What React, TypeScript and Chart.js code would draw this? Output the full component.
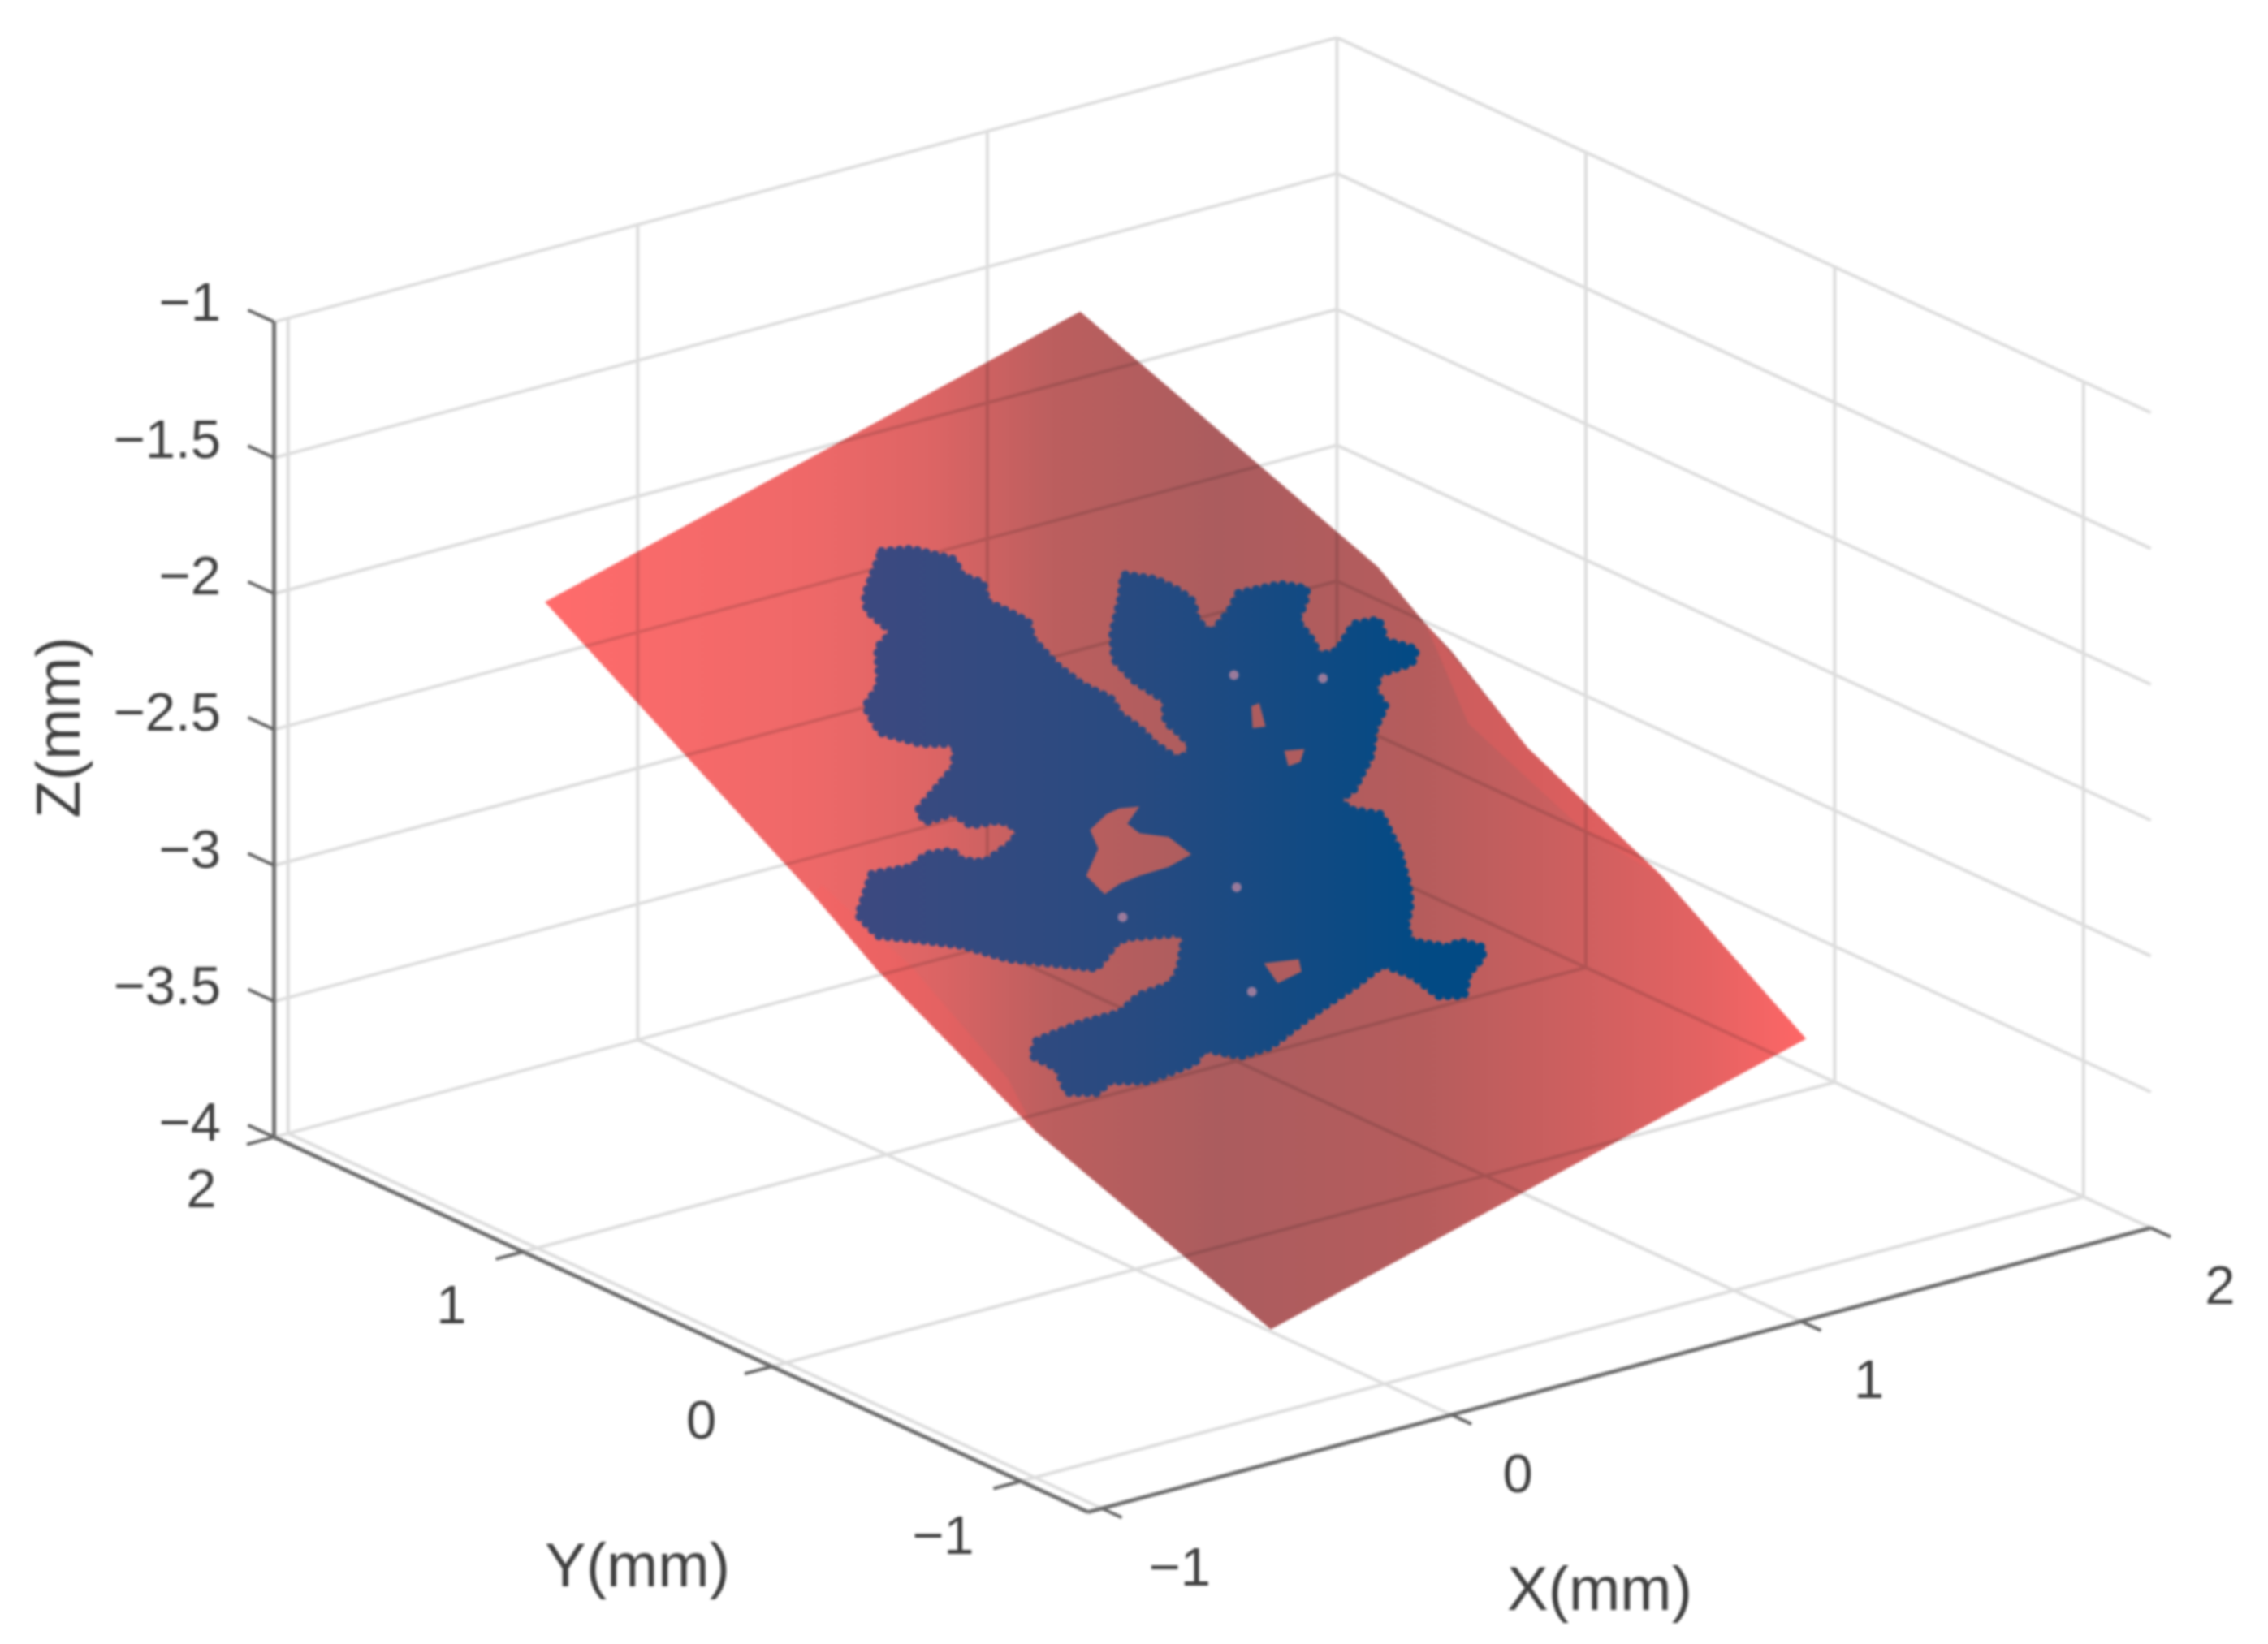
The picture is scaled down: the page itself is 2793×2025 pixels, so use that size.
import React, { useEffect, useRef } from "react";
import { Chart, registerables } from "chart.js";

Chart.register(...registerables);

// axis limits and ticks, mm
const xLimits = [-1.04, 2];
const yLimits = [-1.27, 2];
const zLimits = [-4, -1];
const xTicks = [-1, 0, 1, 2];
const yTicks = [-1, 0, 1, 2];
const zTicks = [-4, -3.5, -3, -2.5, -2, -1.5, -1];
const xTickText = ["−1", "0", "1", "2"];
const yTickText = ["−1", "0", "1", "2"];
const zTickText = ["−4", "−3.5", "−3", "−2.5", "−2", "−1.5", "−1"];

// fitted surface outline, mm
const surfX = [-0.479, 1.052, 1.052, 1.052, 1.052, 1.052, 1.052, 1.052, -0.479, -0.479, -0.479, -0.479];
const surfY = [1.7, 1.7, 0.504, 0.312, 0.209, -0.097, -0.639, -1.217, -1.217, -0.275, 0.361, 0.621];
const surfZ = [-2.097, -1.555, -1.99, -2.119, -2.175, -2.401, -2.647, -3.0, -3.543, -3.215, -2.89, -2.72];

// mean plane through the surface: three of its corners, mm
const planeX = [-0.479, 1.052, -0.479];
const planeY = [1.7, 1.7, -1.217];
const planeZ = [-2.097, -1.555, -3.542];

// brighter rims of the surface, mm
const rimRightX = [1.114, 1.075, 1.085, 1.025, 1.009, 1.114];
const rimRightY = [0.398, -0.067, -0.594, -0.354, 0.08, 0.398];
const rimLeftX = [-0.524, -0.545, -0.55, -0.503, -0.474, -0.49, -0.524];
const rimLeftY = [0.557, 0.269, -0.375, -0.193, 0.238, 0.573, 0.557];

// outline of the measured point cloud on the surface, mm
const cloudX = [0.239,0.3,0.358,0.343,0.369,0.341,0.36,0.381,0.357,0.353,0.364,0.392,0.379,0.39,0.389,0.404,0.454,0.455,0.451,0.489,0.469,0.471,0.518,0.596,0.645,0.696,0.719,0.724,0.697,0.698,0.777,0.823,0.918,0.959,0.927,0.882,0.873,0.857,0.901,0.98,1.035,1.008,1.05,1.017,0.935,0.895,0.887,0.826,0.769,0.674,0.628,0.629,0.679,0.643,0.597,0.568,0.514,0.501,0.559,0.588,0.621,0.602,0.545,0.497,0.449,0.439,0.404,0.32,0.218,0.146,0.044,-0.029,-0.085,-0.126,-0.248,-0.317,-0.364,-0.419,-0.392,-0.416,-0.379,-0.272,-0.172,-0.106,-0.025,0.021,0.09,0.086,-0.017,-0.045,-0.134,-0.21,-0.28,-0.341,-0.423,-0.479,-0.478,-0.377,-0.287,-0.242,-0.184,-0.184,-0.145,-0.054,-0.02,-0.04,-0.103,-0.111,-0.181,-0.171,-0.028,0.021,-0.043,-0.099,-0.078,-0.011,0.054,0.109,0.103,0.128,0.239];
const cloudY = [1.356,1.319,1.233,1.177,1.131,1.077,1.028,0.966,0.917,0.81,0.726,0.65,0.592,0.532,0.471,0.392,0.406,0.473,0.511,0.57,0.659,0.746,0.819,0.896,0.954,0.896,0.829,0.786,0.733,0.676,0.711,0.743,0.707,0.659,0.623,0.592,0.514,0.465,0.454,0.5,0.476,0.412,0.347,0.317,0.335,0.296,0.242,0.199,0.134,0.07,0.063,0.023,-0.034,-0.156,-0.257,-0.307,-0.363,-0.408,-0.476,-0.474,-0.522,-0.549,-0.571,-0.622,-0.586,-0.499,-0.425,-0.441,-0.452,-0.462,-0.481,-0.464,-0.392,-0.416,-0.398,-0.345,-0.356,-0.313,-0.237,-0.169,-0.136,-0.152,-0.181,-0.163,-0.179,-0.149,-0.072,-0.059,0.003,0.009,-0.032,0.046,0.117,0.217,0.306,0.362,0.442,0.53,0.491,0.505,0.477,0.438,0.402,0.414,0.443,0.49,0.518,0.574,0.591,0.632,0.691,0.751,0.8,0.888,0.976,1.012,1.112,1.131,1.224,1.266,1.356];

// gaps inside the cloud, mm
const gapAX = [0.204,0.245,0.191,0.196,0.243,0.253,0.187,0.117,0.064,0.018,0.018,0.091,0.11,0.169,0.204];
const gapAY = [0.352,0.328,0.301,0.259,0.208,0.131,0.13,0.148,0.155,0.149,0.223,0.277,0.337,0.355,0.352];
const gapBX = [0.617,0.658,0.626,0.596,0.617];
const gapBY = [0.269,0.245,0.217,0.223,0.269];
const gapCX = [0.638,0.659,0.627,0.6,0.638];
const gapCY = [0.431,0.428,0.358,0.372,0.431];
const gapDX = [0.186,0.258,0.24,0.174,0.186];
const gapDY = [-0.255,-0.294,-0.33,-0.327,-0.255];
const speckX = [0.664,0.276,0.823,0.009,0.111];
const speckY = [0.537,-0.019,0.403,0.064,-0.312];

const W = 2793;
const H = 2025;
const FONT = '"Liberation Sans", Arial, sans-serif';
const INK = "#404040";

// view of the 3-D box on the page
const O = [333, 1403];
const EX = [432.4, -115.9];
const EY = [307.8, 142.1];
const EZ = -336.7;

function project(x: number, y: number, z: number) {
  const a = x - xLimits[0];
  const b = yLimits[1] - y;
  const c = z - zLimits[0];
  return { x: O[0] + a * EX[0] + b * EY[0], y: O[1] + a * EX[1] + b * EY[1] + c * EZ };
}

function surfaceZ(x: number, y: number) {
  const sx = (planeZ[1] - planeZ[0]) / (planeX[1] - planeX[0]);
  const sy = (planeZ[2] - planeZ[0]) / (planeY[0] - planeY[2]);
  return planeZ[0] + (x - planeX[0]) * sx + (planeY[0] - y) * sy;
}

const GAP = { x: NaN, y: NaN };

function segs(list: number[][][]) {
  const out: { x: number; y: number }[] = [];
  list.forEach(([a, b]) => {
    out.push(project(a[0], a[1], a[2]), project(b[0], b[1], b[2]), GAP);
  });
  return out;
}

function onSurface(xs: number[], ys: number[]) {
  return xs.map((x, i) => project(x, ys[i], surfaceZ(x, ys[i])));
}

function surfaceOutline() {
  const pts = surfX.map((x, i) => project(x, surfY[i], surfZ[i]));
  pts.push(pts[0]);
  return pts;
}

function gridLines() {
  const [x0, x1] = xLimits;
  const [y0, y1] = yLimits;
  const [z0, z1] = zLimits;
  const l: number[][][] = [];
  zTicks.forEach((z) => {
    l.push([[x0, y1, z], [x1, y1, z]]);
    l.push([[x1, y1, z], [x1, y0, z]]);
  });
  xTicks.forEach((x) => {
    l.push([[x, y1, z0], [x, y1, z1]]);
    l.push([[x, y1, z0], [x, y0, z0]]);
  });
  yTicks.forEach((y) => {
    l.push([[x1, y, z0], [x1, y, z1]]);
    l.push([[x0, y, z0], [x1, y, z0]]);
  });
  return segs(l);
}

function axisLines() {
  const [x0, x1] = xLimits;
  const [y0, y1] = yLimits;
  const [z0, z1] = zLimits;
  return segs([
    [[x0, y1, z0], [x0, y1, z1]],
    [[x0, y1, z0], [x0, y0, z0]],
    [[x0, y0, z0], [x1, y0, z0]],
  ]);
}

function tickLines() {
  const [x0] = xLimits;
  const [y0, y1] = yLimits;
  const [z0] = zLimits;
  const l: number[][][] = [];
  zTicks.forEach((z) => l.push([[x0, y1, z], [x0, y1 + 0.105, z]]));
  yTicks.forEach((y) => l.push([[x0, y, z0], [x0 - 0.078, y, z0]]));
  xTicks.forEach((x) => l.push([[x, y0, z0], [x, y0 - 0.08, z0]]));
  return segs(l);
}

const tickLabelPlugin = {
  id: "tickLabels",
  afterDatasetsDraw(chart: any) {
    const ctx = chart.ctx;
    const [x0] = xLimits;
    const [y0, y1] = yLimits;
    const [z0] = zLimits;
    ctx.save();
    ctx.fillStyle = INK;
    ctx.textBaseline = "middle";
    ctx.font = `67px ${FONT}`;
    ctx.textAlign = "right";
    zTicks.forEach((z, i) => {
      const p = project(x0, y1, z);
      ctx.fillText(zTickText[i], p.x - 61, p.y - 16);
    });
    ctx.textAlign = "center";
    yTicks.forEach((y, i) => {
      const p = project(x0, y, z0);
      ctx.fillText(yTickText[i], p.x + (y < 0 ? -95 : -85), p.y + 66);
    });
    xTicks.forEach((x, i) => {
      const p = project(x, y0, z0);
      ctx.fillText(xTickText[i], p.x + (x < 0 ? 96 : 80), p.y + 72);
    });
    ctx.font = `76px ${FONT}`;
    ctx.fillText("Y(mm)", 785, 1933);
    ctx.fillText("X(mm)", 1970, 1962);
    ctx.translate(77, 896);
    ctx.rotate(-Math.PI / 2);
    ctx.fillText("Z(mm)", 0, 0);
    ctx.restore();
  },
};

const compositePlugin = {
  id: "gridThroughSurface",
  beforeDraw(chart: any) {
    const ctx = chart.ctx;
    ctx.save();
    ctx.fillStyle = "#ffffff";
    ctx.fillRect(0, 0, W, H);
    ctx.restore();
  },
  beforeDatasetDraw(chart: any, args: any) {
    if (chart.data.datasets[args.index].label === "grid") {
      chart.ctx.save();
      chart.ctx.globalCompositeOperation = "multiply";
    }
  },
  afterDatasetDraw(chart: any, args: any) {
    if (chart.data.datasets[args.index].label === "grid") chart.ctx.restore();
  },
};

export default function App() {
  const ref = useRef<HTMLCanvasElement | null>(null);
  useEffect(() => {
    const canvas = ref.current!;
    const ctx = canvas.getContext("2d")!;

    const surfaceFill = ctx.createLinearGradient(668, 1000, 2228, 1000);
    surfaceFill.addColorStop(0, "#ff6b6b");
    surfaceFill.addColorStop(0.213, "#ee6868");
    surfaceFill.addColorStop(0.309, "#dc6464");
    surfaceFill.addColorStop(0.405, "#bb5e5e");
    surfaceFill.addColorStop(0.533, "#ab5c5e");
    surfaceFill.addColorStop(0.694, "#b55c5c");
    surfaceFill.addColorStop(0.822, "#cf5f5f");
    surfaceFill.addColorStop(0.918, "#e46262");
    surfaceFill.addColorStop(1, "#ff6666");

    const cloudFill = ctx.createLinearGradient(1060, 1000, 1750, 1000);
    cloudFill.addColorStop(0, "#3c4980");
    cloudFill.addColorStop(0.5, "#274a80");
    cloudFill.addColorStop(1, "#024a84");

    const shape = (label: string, data: any[], color: any, order: number, extra: any = {}) => ({
      label,
      data,
      showLine: true,
      fill: "shape",
      backgroundColor: color,
      borderWidth: 0,
      pointRadius: 0,
      order,
      ...extra,
    });
    const stroke = (label: string, data: any[], color: string, width: number, order: number) => ({
      label,
      data,
      showLine: true,
      fill: false,
      borderColor: color,
      borderWidth: width,
      pointRadius: 0,
      spanGaps: false,
      order,
    });

    const chart = new Chart(canvas, {
      type: "scatter",
      data: {
        datasets: [
          shape("surface", surfaceOutline(), surfaceFill, 60),
          shape("rim right", onSurface(rimRightX, rimRightY), "rgba(255,92,92,0.28)", 58),
          shape("rim left", onSurface(rimLeftX, rimLeftY), "rgba(255,92,92,0.28)", 58),
          stroke("grid", gridLines(), "#dddddd", 4, 50),
          shape("cloud", onSurface(cloudX, cloudY), cloudFill, 10, {
            borderColor: cloudFill,
            borderWidth: 11,
            borderDash: [0.1, 11],
            borderCapStyle: "round",
          }),
          shape("gap a", onSurface(gapAX, gapAY), surfaceFill, 5),
          shape("gap b", onSurface(gapBX, gapBY), surfaceFill, 5),
          shape("gap c", onSurface(gapCX, gapCY), surfaceFill, 5),
          shape("gap d", onSurface(gapDX, gapDY), surfaceFill, 5),
          {
            label: "specks",
            data: onSurface(speckX, speckY),
            showLine: false,
            pointRadius: 6,
            borderWidth: 0,
            backgroundColor: "rgba(175,130,160,0.85)",
            order: 4,
          },
          stroke("axes", axisLines(), "#6e6e6e", 5, 2),
          stroke("ticks", tickLines(), "#666666", 4, 1),
        ] as any,
      },
      options: {
        animation: false,
        responsive: false,
        maintainAspectRatio: false,
        devicePixelRatio: 1,
        layout: { padding: 0 },
        plugins: { legend: { display: false }, tooltip: { enabled: false } },
        events: [],
        scales: {
          x: { type: "linear", min: 0, max: W, display: false },
          y: { type: "linear", min: 0, max: H, reverse: true, display: false },
        },
      },
      plugins: [compositePlugin, tickLabelPlugin],
    });
    return () => chart.destroy();
  }, []);

  return (
    <canvas
      ref={ref}
      width={W}
      height={H}
      style={{ position: "absolute", left: 0, top: 0, width: W, height: H, filter: "blur(1.5px)" }}
    />
  );
}
